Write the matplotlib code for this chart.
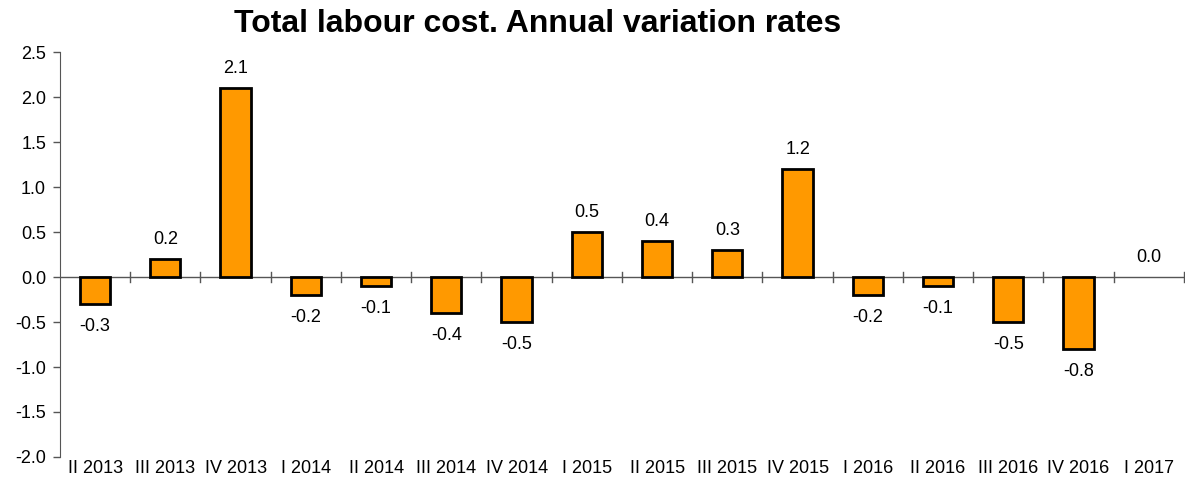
import matplotlib.pyplot as plt
import numpy as np

plt.rcParams['font.family'] = ['Liberation Sans', 'DejaVu Sans']

# Quarters and annual variation rates (%)
quarters = ['II 2013', 'III 2013', 'IV 2013', 'I 2014', 'II 2014', 'III 2014',
            'IV 2014', 'I 2015', 'II 2015', 'III 2015', 'IV 2015', 'I 2016',
            'II 2016', 'III 2016', 'IV 2016', 'I 2017']
rates = [-0.3, 0.2, 2.1, -0.2, -0.1, -0.4, -0.5, 0.5, 0.4, 0.3, 1.2,
         -0.2, -0.1, -0.5, -0.8, 0.0]

fig = plt.figure(figsize=(11.85, 4.79), dpi=100)
ax = fig.add_axes([0.0506, 0.046, 0.9485, 0.845])

x = np.arange(len(quarters))
edges = ['none' if v == 0 else 'black' for v in rates]
ax.bar(x, rates, width=0.43, color='#FF9900', edgecolor=edges, linewidth=2, zorder=3)

# zero line with category separators
ax.axhline(0, color='#555555', linewidth=1, zorder=2)
for b in np.arange(0.5, len(quarters), 1):
    ax.plot([b, b], [-0.06, 0.06], color='#555555', linewidth=1, zorder=2, clip_on=False)

# value labels
for xi, v in zip(x, rates):
    off = -16 if v < 0 else 14
    ax.annotate(f'{v:.1f}', (xi, v), xytext=(0, off), textcoords='offset points',
                ha='center', va='center', fontsize=13)

ax.set_xlim(-0.5, len(quarters) - 0.5)
ax.set_ylim(-2.0, 2.5)
ax.set_yticks(np.arange(-2.0, 2.51, 0.5))
ax.set_yticklabels([f'{t:.1f}' for t in np.arange(-2.0, 2.51, 0.5)], fontsize=13)
ax.set_xticks(x)
ax.set_xticklabels(quarters, fontsize=13)
ax.tick_params(axis='x', length=0, pad=2)
ax.tick_params(axis='y', length=5, width=1, color='#555555', pad=5)

for s in ['top', 'right', 'bottom']:
    ax.spines[s].set_visible(False)
ax.spines['left'].set_color('#555555')

fig.text(0.454, 0.950, 'Total labour cost. Annual variation rates', ha='center', va='center',
         fontsize=23, fontweight='bold')

fig.savefig('out.png', dpi=100)
